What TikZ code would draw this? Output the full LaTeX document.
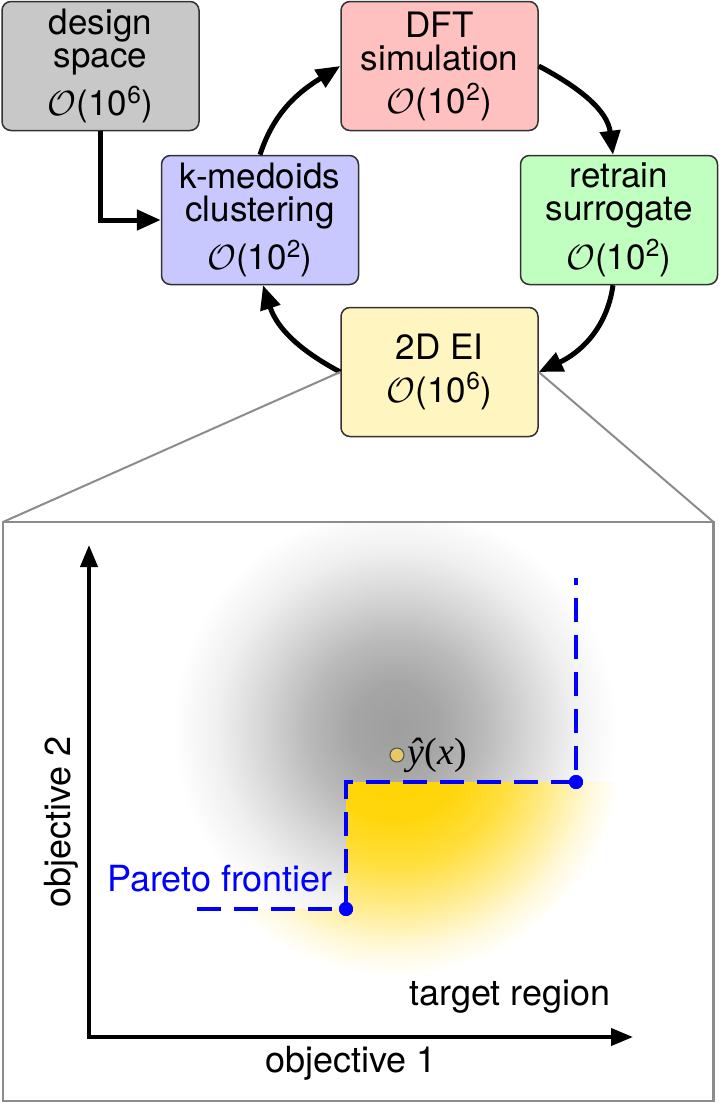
\RequirePackage{fix-cm}
\documentclass[tikz,border=0pt]{standalone}
\usepackage{fontspec}
\setmainfont{TeX Gyre Heros}
\newfontfamily\serifit{Liberation Serif}
\usetikzlibrary{arrows.meta}
\definecolor{cgray}{RGB}{200,200,200}
\definecolor{cpink}{RGB}{255,192,192}
\definecolor{cblue}{RGB}{200,200,255}
\definecolor{cgreen}{RGB}{192,255,192}
\definecolor{cyellow}{RGB}{255,245,192}
\definecolor{gold}{RGB}{255,212,0}
\definecolor{dotfill}{RGB}{232,200,100}
\definecolor{panelgray}{RGB}{140,140,140}
\definecolor{boxline}{RGB}{50,50,50}
\pgfdeclareradialshading{graygauss}{\pgfpoint{0bp}{0bp}}{color(0bp)=(black!38); color(5bp)=(black!35); color(10bp)=(black!27); color(15bp)=(black!16); color(20bp)=(black!6); color(25bp)=(white); color(50bp)=(white)}
\pgfdeclareradialshading{yellowgauss}{\pgfpoint{0bp}{0bp}}{color(0bp)=(gold); color(8bp)=(gold!95!white); color(13bp)=(gold!75!white); color(18bp)=(gold!42!white); color(22bp)=(gold!14!white); color(25bp)=(white); color(50bp)=(white)}
\tikzset{
  box/.style={draw=boxline, line width=1.5pt, rounded corners=9pt, minimum width=197pt, minimum height=129pt, align=center, inner sep=0pt, font=\fontsize{35}{33}\selectfont},
  flow/.style={line width=5pt, -{Triangle[length=24pt,width=20pt]}},
  axis/.style={line width=4pt, {Triangle[length=22pt,width=17pt]}-{Triangle[length=22pt,width=17pt]}},
  lbl/.style={font=\fontsize{36}{36}\selectfont, inner sep=0pt},
  link/.style={panelgray, line width=2pt},
  front/.style={blue, line width=4pt, dash pattern=on 24pt off 13pt},
  fpt/.style={circle, fill=blue, inner sep=0pt, minimum size=14pt},
}
\begin{document}
\begin{tikzpicture}[x=1pt,y=1pt]
\fill[white] (0,0) rectangle (719,-1103);
\useasboundingbox (0,0) rectangle (719,-1103);
% panel corners
\coordinate (pTL) at (3,-522);
\coordinate (pTR) at (713.5,-522);
\coordinate (pBR) at (713.5,-1101);
% shadings
\begin{scope}
  \clip (4,-523) rectangle (712.5,-1100);
  \shade[shading=graygauss] (395,-728) circle (222);
\end{scope}
\begin{scope}
  \clip (346,-782) -- (712.5,-782) -- (712.5,-1100) -- (4,-1100) -- (4,-909) -- (346,-909) -- cycle;
  \fill[white] (4,-523) rectangle (712.5,-1100);
  \shade[shading=yellowgauss] (395,-748) circle (228);
\end{scope}
% boxes
\node[box, fill=cgray] (design) at (100.5,-66) {design\\space\\[10pt]\(\mathcal{O}\)(10\textsuperscript{6})};
\node[box, fill=cpink] (dft) at (439.5,-66) {DFT\\simulation\\[10pt]\(\mathcal{O}\)(10\textsuperscript{2})};
\node[box, fill=cblue] (kmed) at (260,-220) {k-medoids\\clustering\\[10pt]\(\mathcal{O}\)(10\textsuperscript{2})};
\node[box, fill=cgreen] (retrain) at (619,-220) {retrain\\surrogate\\[10pt]\(\mathcal{O}\)(10\textsuperscript{2})};
\node[box, fill=cyellow] (ei) at (439.5,-372) {2D EI\\[10pt]\(\mathcal{O}\)(10\textsuperscript{6})};
% cycle arrows
\draw[flow] (design.south) |- (kmed.west);
\draw[flow] (kmed.north) to[out=72,in=212] (dft.west);
\draw[flow] (dft.east) to[out=-28,in=97] ([xshift=-6pt]retrain.north);
\draw[flow] ([xshift=-6pt]retrain.south) to[out=-98,in=25] (ei.east);
\draw[flow] (ei.west) to[out=152,in=-72] ([xshift=3pt]kmed.south);
% zoom lines and panel
\draw[link] (ei.west) -- (pTL);
\draw[link] (ei.east) -- (pTR);
\draw[panelgray, line width=2.5pt] (pTL) rectangle (pBR);
% axes
\coordinate (O) at (89,-1037);
\coordinate (ytip) at (89,-545);
\coordinate (xtip) at (633,-1037);
\draw[axis] (ytip) -- (O) -- (xtip);
\node[lbl] (obj1) at (351,-1063) {objective 1};
\node[lbl, rotate=90] (obj2) at (61,-822) {objective 2};
\node[lbl] (target) at (510,-997) {target region};
\node[lbl, text=blue] (pareto) at (220,-879) {Pareto frontier};
% frontier
\coordinate (fs) at (197,-909);
\coordinate (fe) at (576,-578);
\node[fpt] (p1) at (346,-909) {};
\node[fpt] (p2) at (576,-782) {};
\draw[front] (fs) -- (p1.center) |- (p2.center) -- (fe);
\node[fpt] at (p1) {};
\node[fpt] at (p2) {};
% predicted mean
\node[circle, fill=dotfill, draw=black!70, line width=1pt, minimum size=14pt, inner sep=0pt] (yhat) at (397,-755) {};
\node[anchor=west, inner sep=3pt, font=\serifit\fontsize{38}{38}\selectfont] (ylab) at (yhat.east) {\itshape ŷ\/\upshape(\itshape x\/\upshape)};
\end{tikzpicture}
\end{document}
